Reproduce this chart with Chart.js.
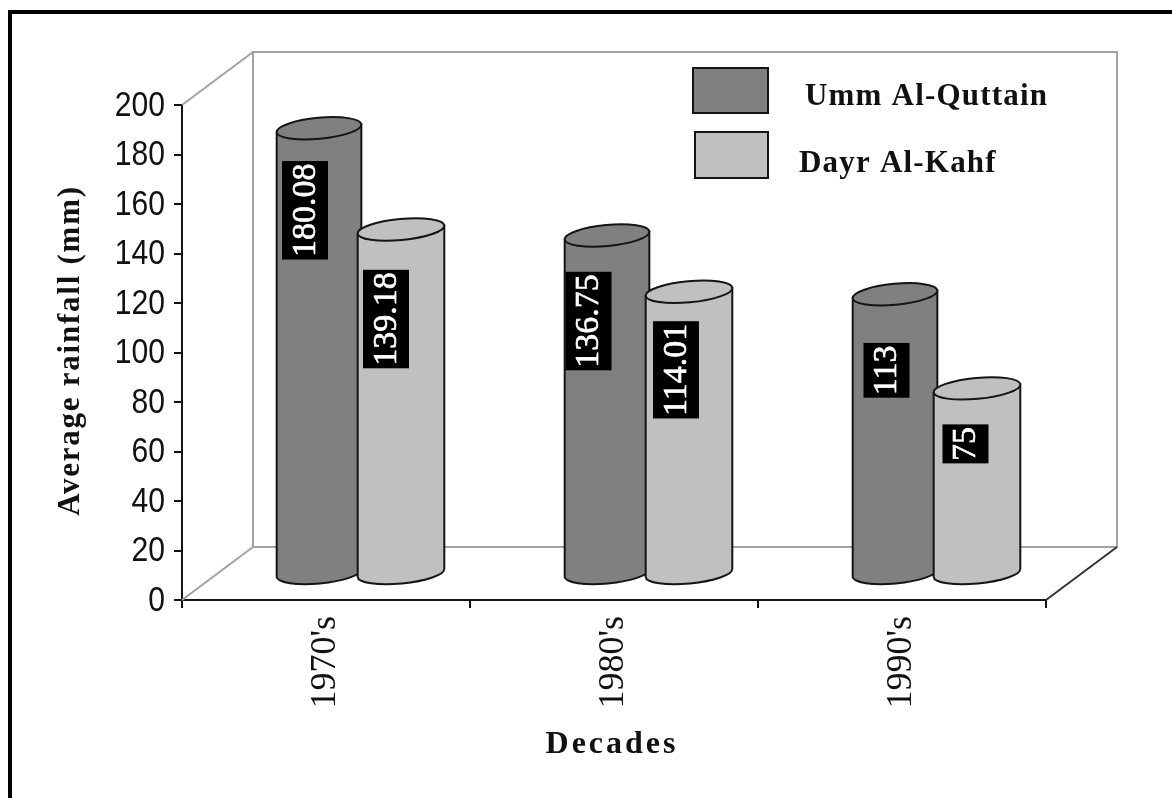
<!DOCTYPE html>
<html>
<head>
<meta charset="utf-8">
<title>Average rainfall by decade</title>
<script src="https://cdn.jsdelivr.net/npm/chart.js@4"></script>
<style>
	html, body { margin: 0; padding: 0; background: #fff; overflow: hidden; }
	#frame { position: absolute; left: 8px; top: 10px; right: 0; bottom: 0; border-left: 4px solid #000; border-top: 4px solid #000; }
	#rain { position: absolute; left: 0; top: 0; filter: blur(0.5px); }
</style>
</head>
<body>
<div id="frame"></div>
<canvas id="rain" width="1172" height="798"></canvas>
<script>
var decades = ["1970's", "1980's", "1990's"];
var ummAlQuttain = [180.08, 136.75, 113];
var dayrAlKahf = [139.18, 114.01, 75];
var seriesNames = ["Umm Al-Quttain", "Dayr Al-Kahf"];
var xAxisTitle = "Decades";
var yAxisTitle = "Average rainfall (mm)";

// look of the fake 3d box, all in pixels
var wallDx = 71, wallDy = 53;
var barDx = 35, barDy = 26;
var capRy = 10.5, capTilt = -0.093;
var barNudge = [1, -3], barRx = [42.5, 43.5]; // the light cylinder overlaps the dark one a bit
var seriesColors = ["#808080", "#c0c0c0"];
var lineColor = "#141414";
var wallColor = "#a2a2a2";
// the value boxes are not centred in the original, shift = [dx from bar centre, dy from bar top]
var labelShift = [
	[[-13, 82], [-17.5, 85.5], [-7.5, 76]],
	[[-18, 89.5], [-16, 78], [-14.5, 55.5]]
];
var legendBoxes = [
	{x: 693, y: 68, w: 75, h: 45, tx: 805, ty: 105},
	{x: 695, y: 132, w: 73, h: 46, tx: 799, ty: 172}
];

function line(ctx, x1, y1, x2, y2){
	ctx.beginPath();
	ctx.moveTo(x1, y1);
	ctx.lineTo(x2, y2);
	ctx.stroke();
}

function drawWalls(chart){
	var ctx = chart.ctx, a = chart.chartArea;
	ctx.lineWidth = 2;
	ctx.strokeStyle = wallColor;
	ctx.strokeRect(a.left + wallDx, a.top - wallDy, a.right - a.left, a.bottom - a.top);
	line(ctx, a.left, a.top, a.left + wallDx, a.top - wallDy);
	line(ctx, a.left, a.bottom, a.left + wallDx, a.bottom - wallDy);
	ctx.strokeStyle = "#333";
	line(ctx, a.right, a.bottom, a.right + wallDx, a.bottom - wallDy);
}

function drawCylinder(ctx, bar, s){
	var rx = barRx[s];
	var cx = bar.x + barDx + barNudge[s];
	var topY = bar.y - barDy;
	var baseY = bar.base - barDy;
	var ex = rx * Math.cos(capTilt), ey = rx * Math.sin(capTilt);

	ctx.lineWidth = 2;
	ctx.strokeStyle = lineColor;
	ctx.fillStyle = seriesColors[s];
	ctx.beginPath();
	ctx.moveTo(cx + ex, topY + ey);
	ctx.lineTo(cx + ex, baseY + ey);
	ctx.ellipse(cx, baseY, rx, capRy, capTilt, 0, Math.PI);
	ctx.lineTo(cx - ex, topY - ey);
	ctx.closePath();
	ctx.fill();
	ctx.stroke();

	ctx.beginPath();
	ctx.ellipse(cx, topY, rx, capRy, capTilt, 0, Math.PI * 2);
	ctx.fill();
	ctx.stroke();
}

function drawValueBox(ctx, bar, text, shift){
	var x = bar.x + barDx + shift[0];
	var y = bar.y - barDy + shift[1];
	ctx.save();
	ctx.translate(x, y);
	ctx.rotate(-Math.PI / 2);
	ctx.font = "34px 'Liberation Serif'";
	var w = ctx.measureText(text).width + 5;
	ctx.fillStyle = "#000";
	ctx.fillRect(-w / 2, -23, w, 46);
	ctx.fillStyle = "#fff";
	ctx.strokeStyle = "#fff";
	ctx.lineWidth = 0.6;
	ctx.textAlign = "center";
	ctx.textBaseline = "middle";
	ctx.fillText(text, 0, 1);
	ctx.strokeText(text, 0, 1);
	ctx.restore();
}

function drawLegend(chart){
	var ctx = chart.ctx;
	ctx.save();
	ctx.font = "bold 31px 'Liberation Serif'";
	ctx.letterSpacing = "1.2px";
	ctx.textBaseline = "alphabetic";
	for(var i = 0; i < legendBoxes.length; i++){
		var b = legendBoxes[i];
		ctx.fillStyle = seriesColors[i];
		ctx.strokeStyle = lineColor;
		ctx.lineWidth = 2;
		ctx.fillRect(b.x, b.y, b.w, b.h);
		ctx.strokeRect(b.x, b.y, b.w, b.h);
		ctx.fillStyle = "#111";
		ctx.fillText(chart.data.datasets[i].label, b.tx, b.ty);
	}
	ctx.restore();
}

// the axis titles are spaced out in the original, the stock title option cant do that
function drawAxisTitles(chart){
	var ctx = chart.ctx, a = chart.chartArea;
	ctx.save();
	ctx.fillStyle = "#111";
	ctx.textAlign = "center";
	ctx.textBaseline = "middle";
	ctx.font = "bold 32px 'Liberation Serif'";
	ctx.letterSpacing = "3px";
	ctx.fillText(xAxisTitle, (a.left + a.right) / 2 - 2, 745);
	ctx.translate(71, (a.top + a.bottom) / 2 - 2);
	ctx.rotate(-Math.PI / 2);
	ctx.font = "bold 31px 'Liberation Serif'";
	ctx.letterSpacing = "1.75px";
	ctx.fillText(yAxisTitle, 0, 0);
	ctx.restore();
}

// value axis numbers are tall and narrow in the original, so squeeze them sideways
function drawValueTicks(chart){
	var ctx = chart.ctx, y = chart.scales.y;
	y.ticks.forEach(function(tick){
		ctx.save();
		ctx.translate(165, y.getPixelForValue(tick.value) + 1);
		ctx.scale(0.86, 1);
		ctx.font = "35px 'Liberation Sans'";
		ctx.fillStyle = "#111";
		ctx.textAlign = "right";
		ctx.textBaseline = "middle";
		ctx.fillText(tick.label, 0, 0);
		ctx.restore();
	});
}

var cylinders = {
	id: "cylinders",
	beforeDatasetsDraw: function(chart){
		var ctx = chart.ctx;
		ctx.save();
		drawWalls(chart);
		for(var c = 0; c < decades.length; c++){
			for(var s = 0; s < chart.data.datasets.length; s++){
				drawCylinder(ctx, chart.getDatasetMeta(s).data[c], s);
			}
		}
		for(var s2 = 0; s2 < chart.data.datasets.length; s2++){
			var bars = chart.getDatasetMeta(s2).data;
			for(var k = 0; k < bars.length; k++){
				drawValueBox(ctx, bars[k], String(chart.data.datasets[s2].data[k]), labelShift[s2][k]);
			}
		}
		ctx.restore();
		drawLegend(chart);
		drawAxisTitles(chart);
		drawValueTicks(chart);
		return false; // the stock flat bars stay undrawn
	}
};

new Chart(document.getElementById("rain"), {
	type: "bar",
	data: {
		labels: decades,
		datasets: [
			{label: seriesNames[0], data: ummAlQuttain, backgroundColor: seriesColors[0]},
			{label: seriesNames[1], data: dayrAlKahf, backgroundColor: seriesColors[1]}
		]
	},
	plugins: [cylinders],
	options: {
		responsive: false,
		animation: false,
		events: [],
		layout: {padding: {left: 0, top: 105, right: 126, bottom: 0}},
		datasets: {bar: {categoryPercentage: 0.597, barPercentage: 1}},
		plugins: {legend: {display: false}, title: {display: false}, tooltip: {enabled: false}},
		scales: {
			x: {
				afterFit: function(scale){ scale.height = 198; },
				grid: {drawOnChartArea: false, color: lineColor, lineWidth: 2, tickLength: 8},
				border: {color: lineColor, width: 2},
				ticks: {
					color: "#111",
					autoSkip: false,
					minRotation: 90,
					maxRotation: 90,
					padding: 8,
					font: {family: "'Liberation Serif'", size: 36}
				}
			},
			y: {
				min: 0,
				max: 200,
				afterFit: function(scale){ scale.width = 182; },
				grid: {drawOnChartArea: false, color: lineColor, lineWidth: 2, tickLength: 8},
				border: {color: lineColor, width: 2},
				ticks: {stepSize: 20, display: false}
			}
		}
	}
});
</script>
</body>
</html>
